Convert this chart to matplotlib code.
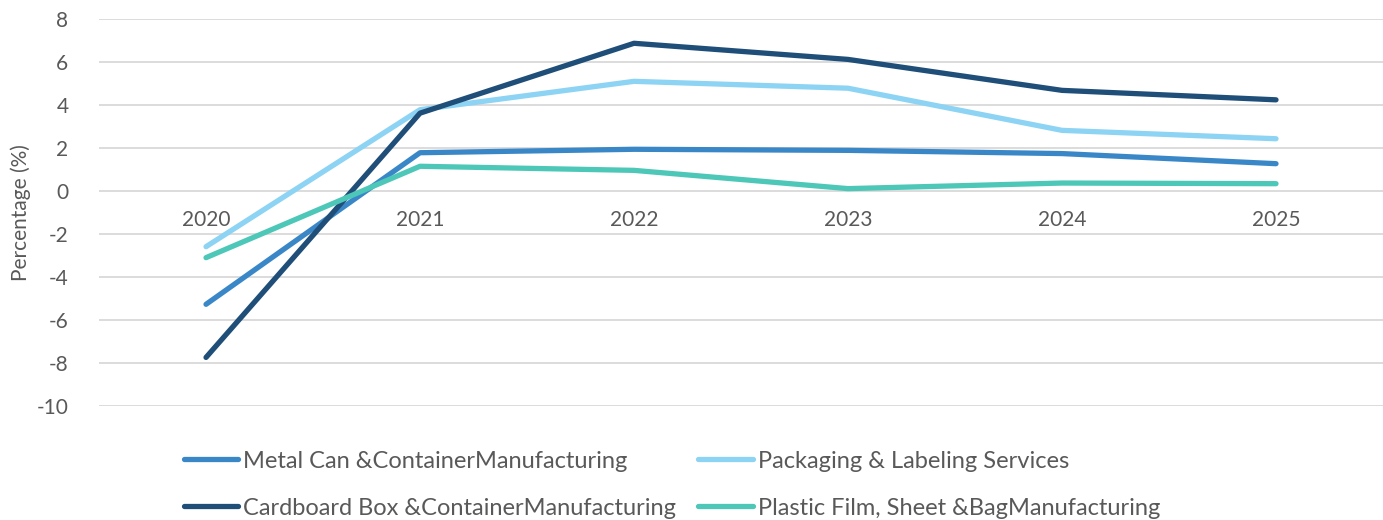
import numpy as np
import matplotlib
matplotlib.use('Agg')
import matplotlib.pyplot as plt

plt.rcParams['font.family'] = ['Lato', 'DejaVu Sans']
plt.rcParams['axes.unicode_minus'] = False

years = ['2020', '2021', '2022', '2023', '2024', '2025']
metal_can = [-5.27, 1.78, 1.94, 1.89, 1.74, 1.27]
packaging = [-2.59, 3.78, 5.10, 4.78, 2.82, 2.43]
cardboard = [-7.74, 3.62, 6.87, 6.12, 4.68, 4.24]
plastic = [-3.10, 1.15, 0.96, 0.11, 0.37, 0.34]

labels = ['Metal Can &ContainerManufacturing',
          'Packaging & Labeling Services',
          'Cardboard Box &ContainerManufacturing',
          'Plastic Film, Sheet &BagManufacturing']
colors = ['#3A87C8', '#8DD3F4', '#1F4E79', '#4DC7B8']
text_col = '#595959'

fig = plt.figure(figsize=(13.83, 5.2), dpi=100)
ax = fig.add_axes([0.0716, 0.2192, 0.9284, 0.7443])

x = np.arange(len(years))
series = [metal_can, packaging, cardboard, plastic]
lines = []
for vals, lab, c in zip(series, labels, colors):
    ln, = ax.plot(x, vals, color=c, lw=3.8, label=lab, solid_capstyle='round',
                  solid_joinstyle='round')
    lines.append(ln)

ax.set_xlim(-0.5, len(years) - 0.5)
ax.set_ylim(-10, 8)
ax.set_yticks(np.arange(-10, 9, 2))
ax.grid(axis='y', color='#D9D9D9', lw=1.3)
ax.set_axisbelow(True)
for s in ax.spines.values():
    s.set_visible(False)

ax.spines['bottom'].set_position(('data', 0))
ax.set_xticks(x)
ax.set_xticklabels(years)
ax.tick_params(axis='x', length=0, pad=14, labelsize=15, labelcolor=text_col)
ax.tick_params(axis='y', length=0, pad=22, labelsize=15, labelcolor=text_col)
ax.set_ylabel('Percentage (%)', fontsize=15, color=text_col, labelpad=4)

order = [0, 2, 1, 3]
leg = fig.legend([lines[i] for i in order], [labels[i] for i in order],
                 ncol=2, loc='lower left', bbox_to_anchor=(0.1177, -0.038),
                 frameon=False, fontsize=17, handlelength=2.3,
                 handletextpad=0.2, columnspacing=0.95, labelspacing=1.1)
for t in leg.get_texts():
    t.set_color(text_col)

fig.savefig('out.png', dpi=100)
